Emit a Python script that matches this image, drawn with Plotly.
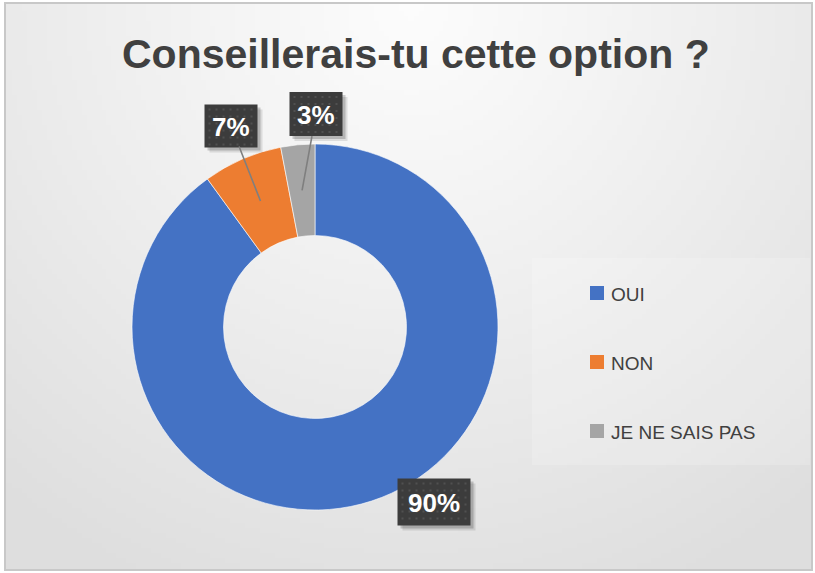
import math, struct, zlib, base64
import plotly.graph_objects as go

# ---------------- data ----------------
categories = ["OUI", "NON", "JE NE SAIS PAS"]
values = [90, 7, 3]
label_texts = ["90%", "7%", "3%"]
colors = ["#4472C4", "#ED7D31", "#A5A5A5"]

# ---------------- layout constants (pixels) ----------------
W, H = 815, 573
CX, CY, R_OUT = 315, 327, 183
HOLE = 0.5
# label box centres and sizes (layout positions)
box_pos = [(434, 502), (231, 126), (316, 114)]
box_size = [(73, 47), (53, 43), (53, 44)]
show_leader = [False, True, True]
FONT = "Liberation Sans, Arial"

# ---------------- background gradient image ----------------
def gradient_png(w, h, scale):
    rows = []
    cx, cy = 407 / scale, 0 / scale
    rmax = 640 / scale
    for j in range(h):
        row = bytearray([0])
        for i in range(w):
            d = math.hypot(i - cx, (j - cy) * 1.0)
            t = min(d / rmax, 1.0)
            v = int(round(252 - 30 * t ** 1.1))
            row.append(v)
        rows.append(bytes(row))
    raw = b"".join(rows)

    def chunk(tag, data):
        c = struct.pack(">I", len(data)) + tag + data
        return c + struct.pack(">I", zlib.crc32(tag + data) & 0xffffffff)

    png = b"\x89PNG\r\n\x1a\n"
    png += chunk(b"IHDR", struct.pack(">IIBBBBB", w, h, 8, 0, 0, 0, 0))
    png += chunk(b"IDAT", zlib.compress(raw, 9))
    png += chunk(b"IEND", b"")
    return "data:image/png;base64," + base64.b64encode(png).decode()

bg_src = gradient_png(163, 114, 5)

fig = go.Figure()

dom_x = [(CX - R_OUT) / W, (CX + R_OUT) / W]
dom_y = [(H - CY - R_OUT) / H, (H - CY + R_OUT) / H]

fig.add_trace(go.Pie(
    labels=categories, values=values,
    marker=dict(colors=colors, line=dict(color="white", width=0.6)),
    hole=HOLE, sort=False, direction="clockwise", rotation=0,
    textinfo="none", showlegend=False,
    domain=dict(x=dom_x, y=dom_y),
    hoverinfo="label+percent",
))

# invisible pixel axes for annotations / shapes
fig.update_xaxes(range=[0, W], visible=False, fixedrange=True)
fig.update_yaxes(range=[H, 0], visible=False, fixedrange=True)
fig.add_trace(go.Scatter(x=[0, W], y=[0, H], mode="markers",
                         marker=dict(opacity=0), hoverinfo="skip", showlegend=False))

annotations = []
shapes = []

# border
shapes.append(dict(type="rect", xref="x", yref="y", x0=5, y0=3, x1=812, y1=570,
                   line=dict(color="#c8c8c8", width=2), fillcolor="rgba(0,0,0,0)", layer="above"))
# legend panel
shapes.append(dict(type="rect", xref="x", yref="y", x0=532, y0=258, x1=810, y1=465,
                   line=dict(width=0), fillcolor="rgba(255,255,255,0.18)", layer="below"))

total = sum(values)
r_mid = R_OUT * (1 + HOLE) / 2
cum = 0
for i, v in enumerate(values):
    mid = 2 * math.pi * (cum + v / 2) / total
    cum += v
    hx = CX + r_mid * math.sin(mid)
    hy = CY - r_mid * math.cos(mid)
    bx, by = box_pos[i]
    bw, bh = box_size[i]
    # shadow
    for k, a in [(5, 0.10), (3, 0.18)]:
        shapes.append(dict(type="rect", xref="x", yref="y",
                           x0=bx - bw / 2 + k, x1=bx + bw / 2 + k,
                           y0=by - bh / 2 + k, y1=by + bh / 2 + k,
                           line=dict(width=0), fillcolor=f"rgba(0,0,0,{a})", layer="above"))
    if show_leader[i]:
        annotations.append(dict(
            x=hx, y=hy, xref="x", yref="y", ax=bx, ay=by, axref="x", ayref="y",
            text="", showarrow=True, arrowhead=0, arrowwidth=1.6, arrowcolor="#7f7f7f",
            standoff=0, startstandoff=bh / 2 - 1))
    shapes.append(dict(type="rect", xref="x", yref="y",
                       x0=bx - bw / 2, x1=bx + bw / 2, y0=by - bh / 2, y1=by + bh / 2,
                       line=dict(width=0), fillcolor="#3c3c3c", layer="above"))
    # dotted texture
    step = 7
    xx = bx - bw / 2 + 4
    while xx < bx + bw / 2 - 2:
        yy = by - bh / 2 + 4
        while yy < by + bh / 2 - 2:
            shapes.append(dict(type="rect", xref="x", yref="y",
                               x0=xx, x1=xx + 2, y0=yy, y1=yy + 2,
                               line=dict(width=0), fillcolor="#505050", layer="above"))
            yy += step
        xx += step
    annotations.append(dict(
        x=bx, y=by + 1, xref="x", yref="y", text=f"<b>{label_texts[i]}</b>",
        showarrow=False, font=dict(family=FONT, size=26, color="white"),
        xanchor="center", yanchor="middle"))

# manual legend
leg_y = [293, 362, 431]
for i, cat in enumerate(categories):
    shapes.append(dict(type="rect", xref="x", yref="y", x0=590, x1=604,
                       y0=leg_y[i] - 7, y1=leg_y[i] + 7,
                       line=dict(width=0), fillcolor=colors[i], layer="above"))
    annotations.append(dict(x=609, y=leg_y[i] + 1, xref="x", yref="y", text=cat,
                            showarrow=False, xanchor="left", yanchor="middle",
                            font=dict(family=FONT, size=19, color="#404040")))

# title
annotations.append(dict(x=416, y=54, xref="x", yref="y",
                        text="<b>Conseillerais-tu cette option ?</b>", showarrow=False,
                        xanchor="center", yanchor="middle",
                        font=dict(family=FONT, size=41, color="#404040")))

fig.update_layout(
    width=W, height=H,
    margin=dict(l=0, r=0, t=0, b=0),
    paper_bgcolor="white", plot_bgcolor="rgba(0,0,0,0)",
    showlegend=False,
    annotations=annotations,
    shapes=shapes,
    images=[dict(source=bg_src, xref="paper", yref="paper",
                 x=5 / W, y=1 - 3 / H, sizex=807 / W, sizey=567 / H,
                 xanchor="left", yanchor="top", sizing="stretch", layer="below")],
)

fig.write_html("out.html", config={"displayModeBar": False},
               post_script="document.body.style.margin='0';document.body.style.overflow='hidden';")
